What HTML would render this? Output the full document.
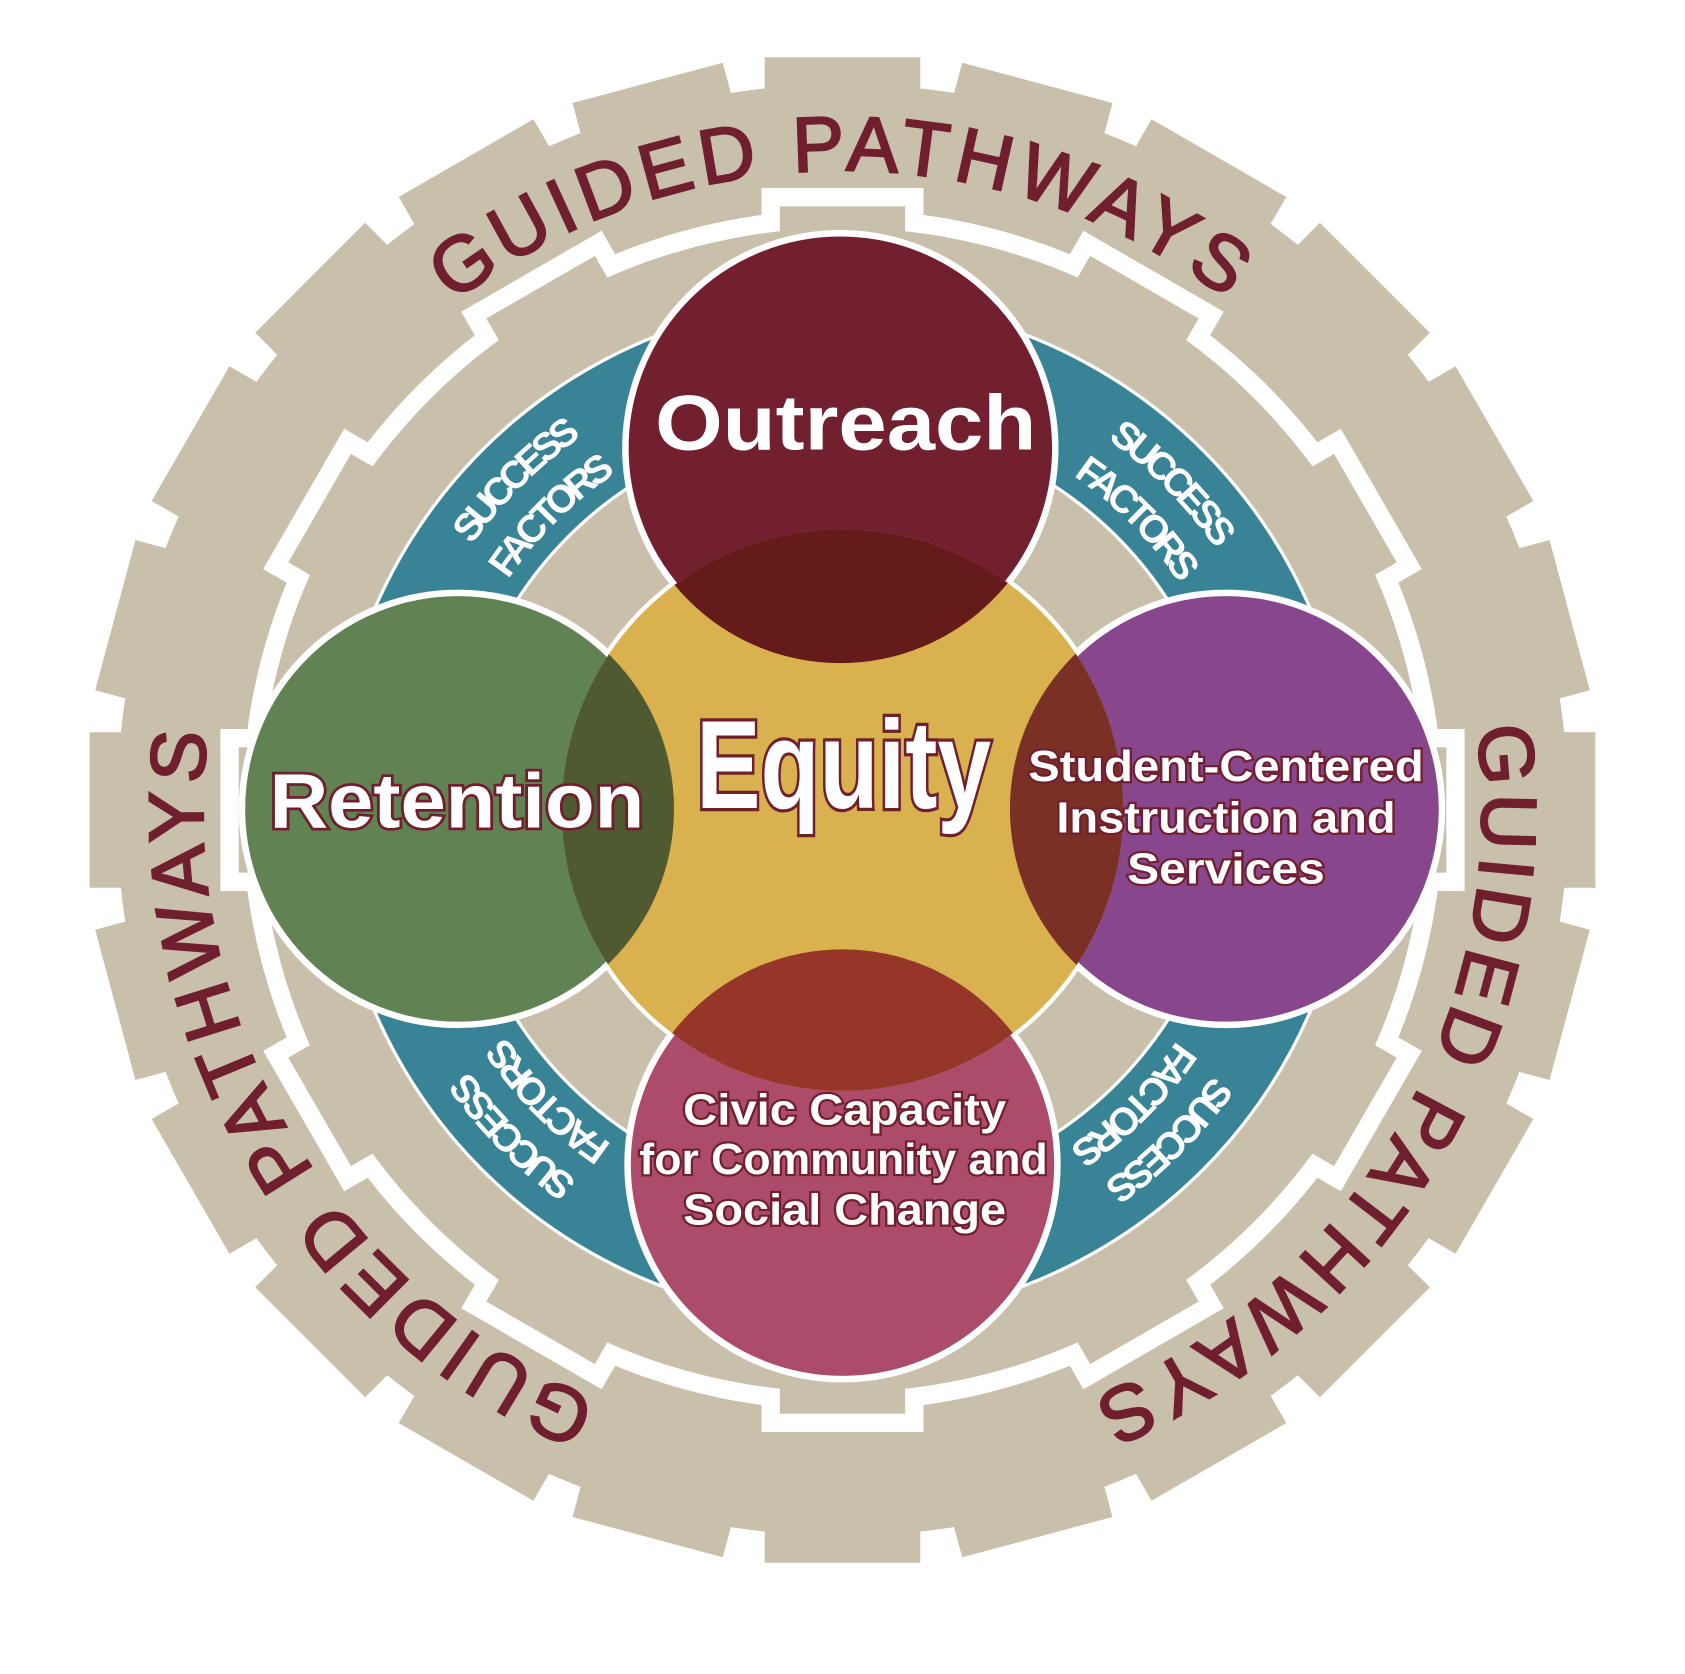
<!DOCTYPE html>
<html><head><meta charset="utf-8"><style>html,body{margin:0;padding:0;background:#fff;}svg{display:block}</style></head>
<body>
<svg width="1685" height="1674" viewBox="0 0 1560 1550" preserveAspectRatio="none" xmlns="http://www.w3.org/2000/svg">
<defs>
<rect id="ot" x="708" y="53" width="144" height="40" fill="#c9c0ab"/>
<rect id="wt" x="705" y="174" width="150" height="60" fill="#fff"/>
<rect id="tt" x="722" y="191" width="116" height="50" fill="#c9c0ab"/>
<clipPath id="eq"><circle cx="780" cy="750" r="260"/></clipPath>
<path id="g0" d="M267.3 454 A592 592 0 0 1 1292.7 454"/>
<path id="g1" d="M1292.7 454 A592 592 0 0 1 780 1342"/>
<path id="g2" d="M780 1342 A592 592 0 0 1 267.3 454"/>
<path id="s0" d="M372.4 640.8 A422 422 0 0 1 670.8 342.4"/>
<path id="s1" d="M889.2 342.4 A422 422 0 0 1 1187.6 640.8"/>
<path id="s2" d="M1187.6 859.2 A422 422 0 0 1 889.2 1157.6"/>
<path id="s3" d="M670.8 1157.6 A422 422 0 0 1 372.4 859.2"/>
<path id="f0" d="M416.8 652.7 A376 376 0 0 1 682.7 386.8"/>
<path id="f1" d="M877.3 386.8 A376 376 0 0 1 1143.2 652.7"/>
<path id="f2" d="M1143.2 847.3 A376 376 0 0 1 877.3 1113.2"/>
<path id="f3" d="M682.7 1113.2 A376 376 0 0 1 416.8 847.3"/>
</defs>
<circle cx="780" cy="750" r="672" fill="#c9c0ab"/>
<g>
<use href="#ot"/><use href="#ot" transform="rotate(15 780 750)"/><use href="#ot" transform="rotate(30 780 750)"/><use href="#ot" transform="rotate(45 780 750)"/><use href="#ot" transform="rotate(60 780 750)"/><use href="#ot" transform="rotate(75 780 750)"/><use href="#ot" transform="rotate(90 780 750)"/><use href="#ot" transform="rotate(105 780 750)"/><use href="#ot" transform="rotate(120 780 750)"/><use href="#ot" transform="rotate(135 780 750)"/><use href="#ot" transform="rotate(150 780 750)"/><use href="#ot" transform="rotate(165 780 750)"/><use href="#ot" transform="rotate(180 780 750)"/><use href="#ot" transform="rotate(195 780 750)"/><use href="#ot" transform="rotate(210 780 750)"/><use href="#ot" transform="rotate(225 780 750)"/><use href="#ot" transform="rotate(240 780 750)"/><use href="#ot" transform="rotate(255 780 750)"/><use href="#ot" transform="rotate(270 780 750)"/><use href="#ot" transform="rotate(285 780 750)"/><use href="#ot" transform="rotate(300 780 750)"/><use href="#ot" transform="rotate(315 780 750)"/><use href="#ot" transform="rotate(330 780 750)"/><use href="#ot" transform="rotate(345 780 750)"/>
</g>
<circle cx="780" cy="750" r="556" fill="#fff"/>
<g>
<use href="#wt"/><use href="#wt" transform="rotate(30 780 750)"/><use href="#wt" transform="rotate(60 780 750)"/><use href="#wt" transform="rotate(90 780 750)"/><use href="#wt" transform="rotate(120 780 750)"/><use href="#wt" transform="rotate(150 780 750)"/><use href="#wt" transform="rotate(180 780 750)"/><use href="#wt" transform="rotate(210 780 750)"/><use href="#wt" transform="rotate(240 780 750)"/><use href="#wt" transform="rotate(270 780 750)"/><use href="#wt" transform="rotate(300 780 750)"/><use href="#wt" transform="rotate(330 780 750)"/>
</g>
<circle cx="780" cy="750" r="539" fill="#c9c0ab"/>
<g>
<use href="#tt"/><use href="#tt" transform="rotate(30 780 750)"/><use href="#tt" transform="rotate(60 780 750)"/><use href="#tt" transform="rotate(90 780 750)"/><use href="#tt" transform="rotate(120 780 750)"/><use href="#tt" transform="rotate(150 780 750)"/><use href="#tt" transform="rotate(180 780 750)"/><use href="#tt" transform="rotate(210 780 750)"/><use href="#tt" transform="rotate(240 780 750)"/><use href="#tt" transform="rotate(270 780 750)"/><use href="#tt" transform="rotate(300 780 750)"/><use href="#tt" transform="rotate(330 780 750)"/>
</g>
<g font-family="Liberation Sans, sans-serif" font-size="72" fill="#6f1f2e" stroke="#6f1f2e" stroke-width="2" letter-spacing="6">
<text><textPath href="#g0" startOffset="50%" text-anchor="middle">GUIDED PATHWAYS</textPath></text>
<text><textPath href="#g1" startOffset="50%" text-anchor="middle">GUIDED PATHWAYS</textPath></text>
<text><textPath href="#g2" startOffset="50%" text-anchor="middle">GUIDED PATHWAYS</textPath></text>
</g>
<circle cx="780" cy="750" r="473" fill="#fff"/>
<circle cx="780" cy="750" r="470" fill="#388395"/>
<circle cx="780" cy="750" r="360" fill="#fff"/>
<circle cx="780" cy="750" r="357" fill="#c9c0ab"/>
<g font-family="Liberation Sans Narrow, Liberation Sans, sans-serif" font-weight="bold" font-size="36" fill="#fff" letter-spacing="-5">
<text><textPath href="#s0" startOffset="50%" text-anchor="middle">SUCCESS</textPath></text>
<text><textPath href="#s1" startOffset="50%" text-anchor="middle">SUCCESS</textPath></text>
<text><textPath href="#s2" startOffset="50%" text-anchor="middle">SUCCESS</textPath></text>
<text><textPath href="#s3" startOffset="50%" text-anchor="middle">SUCCESS</textPath></text>
<text><textPath href="#f0" startOffset="50%" text-anchor="middle">FACTORS</textPath></text>
<text><textPath href="#f1" startOffset="50%" text-anchor="middle">FACTORS</textPath></text>
<text><textPath href="#f2" startOffset="50%" text-anchor="middle">FACTORS</textPath></text>
<text><textPath href="#f3" startOffset="50%" text-anchor="middle">FACTORS</textPath></text>
</g>
<circle cx="780" cy="750" r="264" fill="#fff"/>
<g stroke="#fff" stroke-width="6">
<circle cx="778" cy="415" r="199" fill="#722030"/>
<circle cx="424" cy="749" r="200" fill="#618353"/>
<circle cx="1135" cy="749" r="200" fill="#88468c"/>
<circle cx="780" cy="1078" r="199" fill="#ad4b6b"/>
</g>
<circle cx="780" cy="750" r="260" fill="#d9b14f"/>
<g clip-path="url(#eq)">
<circle cx="778" cy="415" r="199" fill="#641b1a"/>
<circle cx="424" cy="749" r="200" fill="#4f5a31"/>
<circle cx="1135" cy="749" r="200" fill="#7b3026"/>
<circle cx="780" cy="1078" r="199" fill="#953628"/>
</g>
<g font-family="Liberation Sans, sans-serif" font-weight="bold" fill="#fff" stroke="#6f1f2e" paint-order="stroke" text-anchor="middle">
<text x="783" y="416" font-size="72" stroke-width="0" textLength="353" lengthAdjust="spacingAndGlyphs">Outreach</text>
<text x="781" y="748" font-size="116" stroke-width="6" textLength="273" lengthAdjust="spacingAndGlyphs">Equity</text>
<text x="423" y="766" font-size="71" stroke-width="5" textLength="347" lengthAdjust="spacingAndGlyphs">Retention</text>
<text x="1135" y="723" font-size="40" stroke-width="4" textLength="366" lengthAdjust="spacingAndGlyphs">Student-Centered</text>
<text x="1135" y="771" font-size="40" stroke-width="4" textLength="314" lengthAdjust="spacingAndGlyphs">Instruction and</text>
<text x="1135" y="818" font-size="40" stroke-width="4" textLength="183" lengthAdjust="spacingAndGlyphs">Services</text>
<text x="782" y="1041" font-size="40" stroke-width="4" textLength="299" lengthAdjust="spacingAndGlyphs">Civic Capacity</text>
<text x="781" y="1087" font-size="40" stroke-width="4" textLength="378" lengthAdjust="spacingAndGlyphs">for Community and</text>
<text x="782" y="1134" font-size="40" stroke-width="4" textLength="299" lengthAdjust="spacingAndGlyphs">Social Change</text>
</g>
</svg>
</body></html>
